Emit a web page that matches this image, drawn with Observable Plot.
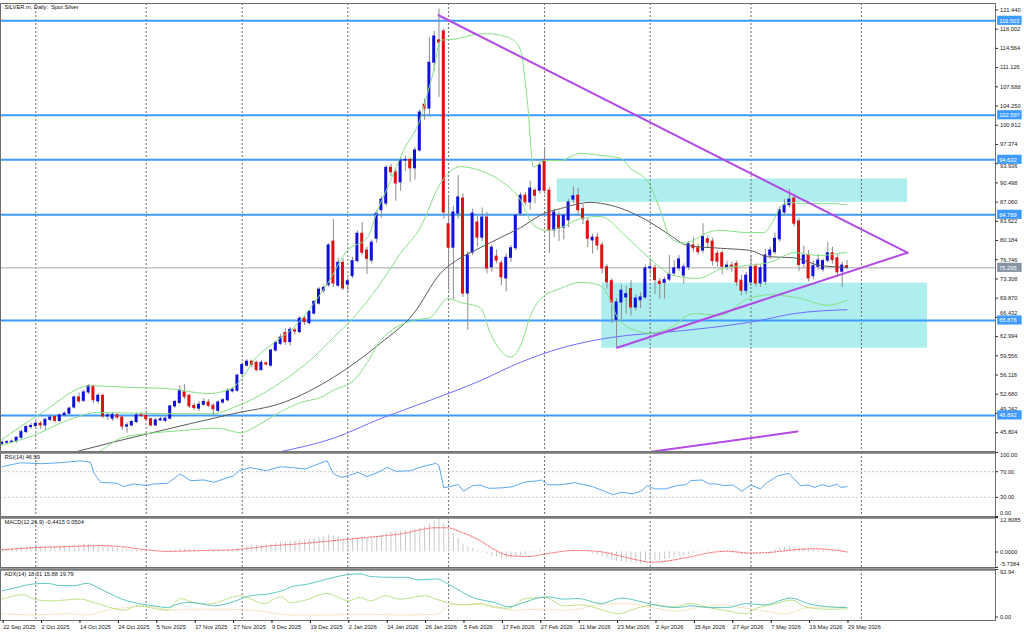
<!DOCTYPE html>
<html><head><meta charset="utf-8">
<script src="https://cdn.jsdelivr.net/npm/d3@7"></script>
<script src="https://cdn.jsdelivr.net/npm/@observablehq/plot@0.6"></script>
<style>
html,body{margin:0;padding:0;background:#fff;}
#chart{position:relative;width:1024px;height:633px;overflow:hidden;background:#fff;}
</style></head><body><div id="chart"></div>
<script>
// ---------- DATA (bar index 0 = 22 Sep 2025, daily bars) ----------
const open = [43.8,44.0,44.1,44.3,44.9,45.9,46.8,47.0,47.4,47.1, 48.1,48.6,47.9,48.9,49.2,50.3,52.1,51.5,53.0,54.1, 51.4,52.4,48.7,48.3,48.9,48.5,46.9,47.1,47.7,48.9, 48.8,48.2,47.1,48.0,47.9,48.3,50.5,51.1,53.0,52.4, 50.6,50.1,50.8,51.2,50.6,49.7,51.2,51.6,53.2,53.3, 56.3,57.8,58.5,58.3,57.0,58.2,57.8,60.5,61.7,63.6, 62.0,64.1,63.8,66.2,65.4,67.1,68.9,71.2,72.2,80.0, 72.1,76.2,72.3,73.8,76.5,81.4,78.4,76.6,80.5,85.6, 86.8,93.2,92.4,90.6,94.5,94.6,93.1,96.3,104.5,103.8, 112.0,116.0,117.6,83.1,78.9,85.0,87.7,70.7,78.0,83.4, 80.7,84.3,75.4,77.3,76.1,73.4,77.1,78.8,85.0,88.2, 87.0,89.1,89.1,94.5,89.1,82.0,84.6,82.5,83.8,87.5, 88.2,85.8,83.6,80.2,80.7,79.3,75.4,72.9,66.0,69.1, 70.0,71.5,68.2,69.5,70.0,75.2,75.2,72.8,72.6,73.2, 74.3,75.2,73.9,75.4,79.3,78.8,78.4,80.4,80.0,77.8, 77.9,75.4,75.7,76.0,73.0,71.2,72.7,75.5,72.5,72.8, 77.5,78.1,80.4,85.2,86.5,87.7,83.6,76.0,77.6,73.8, 75.5,75.0,76.6,77.9,77.0,74.6,75.6];
const high = [44.3,44.4,44.5,45.0,46.3,47.1,47.5,47.9,47.8,48.3, 48.9,48.9,49.1,49.5,50.4,52.3,52.9,53.4,54.4,54.3, 52.8,52.6,49.3,49.4,49.2,48.7,47.6,48.0,49.3,49.4, 49.1,48.4,48.3,48.6,48.8,50.7,51.6,54.2,54.4,52.6, 51.0,51.4,51.9,51.7,51.0,51.5,51.9,53.6,53.9,56.3, 58.3,58.9,58.8,58.6,58.7,58.5,60.8,62.2,63.4,64.4, 64.6,64.5,66.6,66.7,67.7,69.5,71.8,72.2,79.6,83.9, 77.0,77.0,73.5,77.2,81.9,83.4,79.0,80.3,85.5,88.0, 93.6,93.8,93.0,95.0,95.3,95.0,96.8,103.6,105.5,116.5, 117.6,121.6,118.0,88.0,86.3,91.8,88.5,78.2,85.8,84.5, 86.0,85.2,79.4,78.5,76.6,77.8,79.3,85.0,88.7,88.8, 90.8,89.5,94.2,96.8,89.7,85.8,85.2,85.0,87.5,89.8, 89.5,86.6,84.2,81.3,81.5,79.8,75.9,73.4,69.8,72.2, 72.0,73.0,70.5,70.8,75.8,76.5,75.8,73.4,73.6,77.5, 76.6,77.5,76.0,80.0,80.7,79.5,83.2,81.0,80.6,78.4, 78.3,76.5,76.3,76.5,74.0,74.5,77.5,76.0,75.8,78.6, 79.0,81.5,86.2,87.5,89.3,88.4,84.2,79.2,78.4,76.5, 77.7,76.9,79.8,79.0,77.6,76.3,76.6];
const low = [43.5,43.7,43.9,43.9,44.6,45.6,46.4,46.6,46.4,46.2, 47.8,47.6,47.6,48.6,48.9,50.0,51.0,51.2,52.6,51.0, 50.9,48.3,48.0,47.8,48.1,46.2,45.7,46.8,47.4,48.5, 47.9,46.8,46.9,47.8,47.6,48.1,50.2,50.9,51.7,50.1, 49.8,49.6,50.5,50.3,48.8,49.4,50.9,51.3,52.9,53.0, 56.0,57.5,57.4,56.7,56.8,57.7,57.5,60.2,61.4,61.4, 61.3,63.3,63.5,65.0,65.1,66.8,68.6,70.7,71.8,71.8, 71.8,71.2,71.0,73.4,76.2,77.5,74.1,76.0,79.7,84.2, 86.3,91.6,87.2,89.0,92.5,90.6,91.0,96.0,101.7,102.5, 110.5,105.8,84.0,71.2,69.6,84.0,70.0,64.1,77.5,79.0, 80.0,74.2,74.5,76.0,72.1,71.0,76.3,78.3,84.5,86.4, 85.6,86.8,88.5,88.4,77.9,80.7,80.0,80.3,82.5,86.8, 84.5,83.0,78.9,77.8,78.4,74.2,71.5,65.3,61.0,66.0, 67.0,66.7,67.6,68.0,69.6,74.0,70.5,69.7,69.7,72.8, 73.8,74.6,72.4,74.8,78.0,77.5,77.8,78.9,75.6,75.4, 74.0,74.8,74.5,72.0,70.3,70.5,72.0,71.9,71.8,72.2, 76.8,77.6,79.8,84.6,86.0,82.6,74.6,75.3,72.8,73.2, 74.9,74.5,76.2,76.0,73.6,71.8,74.9];
const close = [44.0,44.1,44.2,44.9,45.9,46.8,47.0,47.4,47.1,48.1, 48.5,47.9,48.9,49.2,50.1,52.1,51.4,53.0,54.1,51.6, 52.4,48.7,48.9,49.0,48.5,46.9,47.1,47.7,48.9,48.8, 48.2,47.1,48.0,48.2,48.3,50.5,51.3,53.3,52.2,50.5, 50.2,50.8,51.3,50.6,50.0,51.2,51.6,53.3,53.5,56.0, 57.9,58.5,57.9,57.0,58.3,58.0,60.5,61.9,62.8,62.0, 64.2,63.9,66.2,65.6,67.4,69.2,71.4,71.7,79.3,72.5, 76.2,71.6,72.9,76.5,81.4,78.0,76.9,79.8,85.0,87.5, 93.2,92.4,90.4,94.5,94.6,93.1,96.3,103.1,103.8,112.0, 116.7,115.6,85.2,78.9,85.2,87.9,70.7,77.5,85.0,80.7, 84.3,75.2,78.9,76.6,73.6,77.1,78.8,84.6,88.2,87.0, 89.5,88.2,93.6,89.1,82.0,85.2,82.3,84.6,87.0,88.1, 85.6,84.0,80.5,80.7,79.3,75.2,72.7,69.1,69.1,71.2, 70.6,68.2,69.8,70.0,75.2,75.4,73.1,72.4,73.1,74.1, 75.2,76.8,75.4,79.5,78.8,78.1,80.8,79.8,76.5,76.4, 75.5,75.7,75.5,72.7,71.2,73.9,75.4,72.5,75.2,77.5, 78.4,80.5,85.6,86.5,87.5,83.2,75.8,77.5,73.4,75.6, 76.6,76.5,77.9,76.7,74.5,75.7,75.3];

// Bollinger bands (20) and moving averages, read as [bar, price]
const bbUpper = [[-0.35,44.4],[8.0,49.2],[18.4,54.2],[26.7,53.9],[34.4,53.7],[42.8,52.8],[47.0,53.4],[49.6,55.1],[52.4,58.7],[56.5,61.8],[60.7,64.6],[64.9,68.9],[67.8,72.5],[71.9,78.4],[76.1,80.7],[78.2,85.6],[80.3,89.7],[83.6,96.3],[87.2,102.2],[88.6,106.5],[89.9,110.6],[91.3,116.0],[94.9,116.3],[97.6,116.9],[101.1,117.2],[103.8,116.9],[106.5,116.0],[108.0,114.2],[109.4,105.2],[110.7,93.3],[112.8,94.5],[116.3,94.5],[120.5,95.8],[124.7,95.4],[128.8,94.9],[130.9,93.1],[134.6,90.6],[137.1,85.6],[139.2,80.7],[141.9,79.7],[144.0,80.2],[146.9,81.6],[149.6,82.0],[155.3,81.6],[158.6,81.6],[160.7,83.8],[162.1,86.1],[164.2,87.0],[166.3,86.8],[171.9,86.8],[176,86.6]];
const bbMiddle = [[-0.35,43.5],[6.5,45.3],[13.6,48.0],[19.9,49.4],[34.4,49.2],[44.0,49.2],[48.2,50.3],[52.4,51.9],[56.5,53.9],[60.7,56.4],[64.9,59.3],[69.0,62.8],[73.2,66.4],[78.8,72.5],[83.0,77.9],[87.1,82.5],[91.3,90.4],[95.5,93.4],[99.6,92.7],[103.8,90.9],[108.0,87.4],[110.7,82.9],[113.6,82.0],[116.3,82.5],[120.5,84.1],[124.6,84.5],[130,80.9],[135,76.9],[140,73.9],[145,73.4],[150,75.2],[155,75.7],[160,76.3],[165,78.0],[170,77.5],[176,78.1]];
const bbLower = [[10,40.5],[20.5,42.6],[24.6,44.8],[30.9,45.7],[37.8,46.2],[44.9,46.6],[49.6,45.8],[53.8,47.4],[58.6,49.8],[62.2,51.2],[66.3,52.1],[69.0,53.4],[73.2,55.1],[76.1,58.4],[78.8,62.3],[85.7,65.9],[89.2,66.4],[92.8,69.8],[95.5,69.1],[99.6,68.2],[101.7,63.6],[103.8,60.5],[105.9,59.3],[108.0,61.4],[110.1,66.8],[112.2,69.8],[116.3,71.6],[120.5,72.7],[124.7,72.1],[126.7,69.5],[128.2,66.4],[131.9,64.1],[135.1,63.6],[139.2,64.6],[144.0,67.1],[149.6,66.8],[154.8,69.5],[160.1,70.5],[166.3,69.8],[171.9,68.6],[176,69.5]];
const maSlow = [[48,40.8],[58,42.4],[69,44.8],[78.8,48.3],[89.2,51.6],[99.6,55.1],[108,58.4],[116.3,60.9],[123.2,62.3],[130.3,63.2],[137.2,63.7],[147.6,64.6],[158,65.9],[164.9,67.1],[176,67.8]];
const maMid = [[8,40.6],[16.3,42.6],[30.3,45.6],[48.2,49.2],[58.6,51.2],[69.0,55.7],[78.8,61.8],[85.7,67.1],[91.3,74.3],[95.5,77.1],[99.6,78.9],[103.8,80.7],[108,82.5],[112.8,85.0],[116.3,85.9],[122.6,87.0],[126.7,86.5],[135.1,83.4],[139.2,81.1],[142.8,79.3],[149.6,78.8],[155.9,78.4],[159.4,77.3],[164.9,77.1],[170.5,75.7],[176,75.4]];

// Drawn objects
const triangleUpper = [[90.9,120.5],[188.6,78.0]];
const triangleLower = [[128.1,61.0],[188.6,78.0]];
const trendBottom = [[134.5,42.3],[165.7,46.0]];
const zones = [{from:115.6,to:188.6,low:87.0,high:91.2},{from:124.9,to:192.8,low:60.9,high:72.55}];
const levels = [119.503,102.597,94.632,84.789,65.876,48.892];
const lastPrice = 75.295;

// Indicators
const rsi = [[0,77.8],[3.8,84],[8,82.5],[12.1,84],[16.3,87],[18.4,85],[19.1,68],[20.5,53.4],[23.9,51.8],[25.3,46.7],[27.4,50.9],[30.2,48.2],[31.6,50.9],[34.4,51.8],[37.1,66.4],[39.2,56],[42,57.1],[44.1,53.4],[46.2,58.7],[48.3,63.8],[49.3,71.6],[51.7,76.3],[54.9,71.6],[58,77.8],[60.1,76.7],[63.1,74.2],[67.7,87.2],[69,66.4],[70.7,61.2],[72.2,63.8],[74.1,69],[76,62.3],[78.3,69],[80.2,76.7],[82.1,70.5],[85.1,71.6],[87.4,77.8],[90.4,83],[91,79.4],[92,44.7],[95,49.8],[96.1,39.4],[98,48.2],[99.5,49.3],[101.4,44],[104.1,44.7],[106.4,46.7],[108.6,53.4],[111.7,56],[112.4,57.1],[113.6,49.8],[116.2,49.3],[119.3,52.9],[123,46.7],[127.2,34.2],[129.1,37.8],[131.4,35.3],[133.3,40.5],[134.4,48.2],[135.9,43.1],[138.2,43.1],[140.5,48.2],[142.4,49.8],[143.5,56],[145.8,57.1],[147.3,50.9],[148.8,50.9],[150.4,48.2],[152.2,49.3],[154.1,39.4],[156,49.3],[157.9,43.1],[159.4,53.4],[161.7,63.8],[163.9,67.4],[166.3,48.2],[167.8,49.3],[169.3,45.6],[170.8,49.8],[172.3,46.7],[173.9,50.9],[174.6,45.6],[176,46.59]];
const macdMain = [1.2,1.3,1.4,1.5,1.7,1.9,2.0,2.1,2.1,2.2, 2.2,2.2,2.3,2.3,2.4,2.6,2.6,2.8,3.0,2.7, 2.6,2.1,1.8,1.6,1.4,1.1,0.9,0.8,0.8,0.7, 0.6,0.4,0.3,0.3,0.3,0.5,0.7,1.0,1.1,0.9, 0.7,0.6,0.6,0.5,0.4,0.5,0.6,0.8,1.0,1.4, 1.9,2.3,2.5,2.5,2.6,2.7,3.0,3.4,3.7,3.8, 4.0,4.1,4.4,4.5,4.7,5.0,5.4,5.7,6.2,5.9, 5.8,5.3,5.0,5.0,5.3,5.3,5.1,5.2,5.7,6.2, 7.0,7.4,7.5,7.8,8.0,8.0,8.2,8.9,9.4,10.4, 11.5,12.8,10.6,8.4,7.0,5.2,2.8,1.9,1.2,0.6, -0.3,-0.8,-1.6,-2.0,-2.4,-2.5,-2.3,-1.8,-1.4,-0.9, -0.3,0.2,0.8,1.0,0.4,0.3,0.1,0.1,0.4,0.7, 0.6,0.3,-0.3,-0.7,-1.2,-1.8,-2.4,-3.1,-3.4,-3.6, -3.8,-4.0,-4.2,-4.3,-3.9,-3.4,-3.2,-3.0,-2.7,-2.3, -1.9,-1.5,-1.3,-0.8,-0.5,-0.3,0.1,0.3,0.2,0.0, -0.2,-0.3,-0.4,-0.6,-0.9,-0.9,-0.6,-0.6,-0.4,0.0, 0.3,0.9,1.4,1.7,2.1,1.9,1.4,1.2,0.8,0.6, 0.5,0.4,0.4,0.3,0.0,-0.3,-0.4415];
const macdSignal = [[0,0.8],[6.5,1.6],[13.6,2.0],[20.5,2.4],[24.6,2.0],[30.3,0.8],[34.4,0.2],[38.6,0.4],[42.8,0.6],[48.2,0.8],[52.4,1.6],[56.5,2.4],[60.1,2.8],[67.7,4.0],[75.3,5.3],[82.9,6.7],[90.4,9.0],[92.7,9.0],[95.7,7.3],[99.5,4.3],[102.6,0.8],[105.6,-1.3],[109.4,-1.7],[113.2,-0.7],[119.3,0.6],[123.8,0.3],[128.4,-1.3],[132.2,-2.9],[135.2,-3.8],[139,-3.2],[143.5,-1.7],[148.1,-0.1],[151.1,0.3],[155.6,-0.4],[160.2,-0.1],[164.8,0.8],[169.3,1.2],[173.9,0.6],[176,0.0504]];
const adx = [[0,51.4],[3.1,57.9],[6.6,64.7],[9.4,65.8],[12.1,61.3],[14.9,61.3],[17.7,65.8],[19.8,57.9],[22.6,44.9],[24.6,36.2],[27.4,28.3],[30.2,23.7],[33,19.8],[34.4,18.4],[36.5,25.1],[38.5,28.3],[41.3,26.3],[44.1,21.8],[48.3,30.3],[51.7,41.5],[55.2,44.9],[58.7,52.8],[60.1,58.5],[63.9,64.7],[67.7,74.5],[72.2,83],[74.5,84.4],[76.8,79.1],[81.3,77.7],[84.4,77.7],[86.6,72.6],[90.4,74.5],[93.5,61.3],[98,38.2],[102.6,28.3],[105.6,19.8],[108.6,28.3],[113.2,39.5],[117,35],[120,36.2],[124.6,26.3],[129.1,37],[132.9,30.3],[135.2,25.1],[140.5,18.4],[143.5,21.8],[147.3,18.4],[151.1,18.4],[154.9,26.3],[158.7,23.7],[164.4,37],[167.8,26.3],[172.4,19.8],[176,18.31]];
const plusDI = [[0,35],[4.5,43.5],[6.6,35],[10.1,31.6],[16.3,35],[19.1,28.3],[22.6,18.4],[25.3,13.2],[28.1,21.8],[34.4,13.2],[37.1,36.2],[39.2,30.3],[42.7,25.1],[49.7,41.5],[54.5,26.3],[58,39.5],[60.1,28.3],[63.1,33],[67.7,46.1],[70,38.2],[72.2,31.6],[74.5,38.2],[76.8,31.6],[79.8,41.5],[82.9,35],[88.1,41.5],[90.4,35],[92.7,28.3],[96.5,23.7],[99.5,26.3],[102.6,19.8],[105.6,17.2],[108.6,35],[113.2,38.2],[117,21.8],[120.8,23.7],[125.3,13.2],[128.4,6.5],[132.2,17.2],[135.9,23.7],[139.7,19.8],[143.5,26.3],[147.3,18.4],[151.1,11.9],[154.9,6.5],[157.2,17.2],[160.9,25.1],[164.4,33],[167.8,18.4],[172.4,15.2],[176,15.88]];
const minusDI = [[0,6.5],[6.6,4],[13.5,6.5],[17.7,4],[22.6,15.2],[26,18.4],[29.5,21.8],[35.8,13.2],[39.9,15.2],[44.1,15.2],[52.4,13.2],[57.3,6.5],[60.1,4],[67.7,4],[75.3,5.3],[82.9,4],[90.4,5.3],[93.5,23.7],[98,25.1],[102.6,18.4],[107.2,13.2],[111.7,15.2],[117.8,13.2],[125.3,25.1],[129.9,26.3],[135.2,18.4],[140.5,11.9],[145,18.4],[149.6,23.7],[154.1,18.4],[158.7,11.9],[163.2,6.5],[167.8,18.4],[172.4,19.8],[176,19.79]];

// Axes
const priceTicks = [121.440,118.002,114.564,111.126,107.688,104.250,100.812,97.374,90.498,87.060,83.622,80.184,76.746,73.308,69.870,62.994,59.556,56.118,52.680,45.804];
const priceTicksAbove = [66.432,49.242];   // partly covered by the level labels just below them
const priceTicksBelow = [93.936];          // partly covered by the level label just above it
const monthStarts = [7,30,50,72,93,113,135,156,179];
const labelBars = [0,8,16,24,32,40,48,56,64,72,80,88,96,104,112,120,128,136,144,152,160,168,176];
const dateLabels = ["22 Sep 2025","2 Oct 2025","14 Oct 2025","24 Oct 2025","5 Nov 2025","17 Nov 2025","27 Nov 2025","9 Dec 2025","19 Dec 2025","2 Jan 2026","14 Jan 2026","26 Jan 2026","5 Feb 2026","17 Feb 2026","27 Feb 2026","11 Mar 2026","23 Mar 2026","2 Apr 2026","15 Apr 2026","27 Apr 2026","7 May 2026","19 May 2026","29 May 2026"];
const titles = {main:"SILVER.m, Daily:  Spot Silver", rsi:"RSI(14) 46.59", macd:"MACD(12,26,9) -0.4415 0.0504", adx:"ADX(14) 18.31 15.88 19.79"};

// ---------- CHART ----------
const candles = close.map((c, i) => ({i, open: open[i], high: high[i], low: low[i], close: c}));
const xDomain = [-0.354, 206.94];
const W = 1024, MR = 29;
const baseStyle = {fontFamily: "'Liberation Sans', Arial, sans-serif", fontSize: "5.7px", color: "#1a1a1a", background: "transparent", overflow: "visible"};
const gridColor = "#5c5c5c";
const frameColor = "#6e6e6e";
const lblX1 = xDomain[1] + 0.45, lblX2 = xDomain[1] + 5.55;
const place = (el, top) => { el.style.position = "absolute"; el.style.left = "0px"; el.style.top = top + "px"; document.getElementById("chart").append(el); };
const grid = () => Plot.ruleX(monthStarts, {stroke: gridColor, strokeDasharray: "2,2", strokeWidth: 0.9});
const title = (t, dy) => Plot.text([t], {frameAnchor: "top-left", dx: 4, dy, fill: "#111"});
const tickLabels = (values, fmt, dy) => [
  Plot.ruleY(values, {x1: () => xDomain[1], x2: () => xDomain[1] + 0.63, stroke: "#333"}),
  Plot.text(values, {x: () => xDomain[1], y: d => d, dx: 4.5, dy, text: d => fmt(d), textAnchor: "start", fill: "#1a1a1a"})
];

const main = Plot.plot({
  width: W, height: 452, marginTop: 3, marginBottom: 1, marginLeft: 0, marginRight: MR,
  x: {domain: xDomain, axis: null}, y: {domain: [42.43, 122.60], axis: null},
  style: baseStyle,
  marks: [
    Plot.rect(zones, {x1: "from", x2: "to", y1: "low", y2: "high", fill: "#aeeeee"}),
    grid(),
    Plot.ruleY([lastPrice], {stroke: "#c4c4c4", strokeWidth: 1.5}),
    Plot.ruleY(levels, {stroke: "#3d9bff", strokeWidth: 2}),
    Plot.ruleX(candles, {x: "i", y1: "low", y2: "high", stroke: "#8c8c8c"}),
    Plot.rect(candles, {x1: d => d.i - 0.31, x2: d => d.i + 0.31, y1: "open", y2: "close", insetTop: -0.5, insetBottom: -0.5,
      fill: d => d.close >= d.open ? "#1010d8" : "#e01010"}),
    Plot.line(maSlow, {stroke: "#6f6cff", strokeWidth: 1, curve: "monotone-x", clip: true}),
    Plot.line(maMid, {stroke: "#5a5a5a", strokeWidth: 1, curve: "monotone-x", clip: true}),
    Plot.line(bbLower, {stroke: "#86e086", strokeWidth: 1, curve: "monotone-x", clip: true}),
    Plot.line(bbMiddle, {stroke: "#86e086", strokeWidth: 1, curve: "monotone-x", clip: true}),
    Plot.line(bbUpper, {stroke: "#86e086", strokeWidth: 1, curve: "monotone-x", clip: true}),
    Plot.line(triangleUpper, {stroke: "#b24ae6", strokeWidth: 2, clip: true}),
    Plot.line(triangleLower, {stroke: "#b24ae6", strokeWidth: 2, clip: true}),
    Plot.line(trendBottom, {stroke: "#b24ae6", strokeWidth: 2, clip: true}),
    Plot.frame({stroke: frameColor}),
    ...tickLabels(priceTicks, d => d.toFixed(3), 0),
    ...tickLabels(priceTicksAbove, d => d.toFixed(3), -4),
    ...tickLabels(priceTicksBelow, d => d.toFixed(3), 2.6),
    Plot.rect(levels, {x1: () => lblX1, x2: () => lblX2, y1: d => d - 0.82, y2: d => d + 0.82, fill: "#3d9bff"}),
    Plot.text(levels, {x: () => lblX1, y: d => d, dx: 1.5, text: d => d.toFixed(3), fill: "#ffffff", textAnchor: "start"}),
    Plot.rect([lastPrice], {x1: () => lblX1, x2: () => lblX2, y1: d => d - 0.82, y2: d => d + 0.82, fill: "#8795a3"}),
    Plot.text([lastPrice], {x: () => lblX1, y: d => d, dx: 1.5, text: d => d.toFixed(3), fill: "#ffffff", textAnchor: "start"}),
    title(titles.main, 1)
  ]
});
place(main, 0);

const rsiPlot = Plot.plot({
  width: W, height: 66, marginTop: 1, marginBottom: 1, marginLeft: 0, marginRight: MR,
  x: {domain: xDomain, axis: null}, y: {domain: [0, 100], axis: null},
  style: baseStyle,
  marks: [
    grid(),
    Plot.ruleY([70, 30], {stroke: "#c8c8c8", strokeDasharray: "2,2"}),
    Plot.line(rsi, {stroke: "#5aa9f2", strokeWidth: 1}),
    Plot.frame({stroke: frameColor}),
    Plot.ruleY([100], {stroke: "#7a7a7a", strokeWidth: 2.5}),
    ...tickLabels([70, 30], d => d.toFixed(2), 0),
    ...tickLabels([100], d => d.toFixed(2), 3),
    ...tickLabels([0], d => d.toFixed(2), -3.5),
    title(titles.rsi, 2)
  ]
});
place(rsiPlot, 451);

const macdPlot = Plot.plot({
  width: W, height: 52, marginTop: 1, marginBottom: 1, marginLeft: 0, marginRight: MR,
  x: {domain: xDomain, axis: null}, y: {domain: [-5.7384, 12.8085], axis: null},
  style: baseStyle,
  marks: [
    grid(),
    Plot.ruleX(macdMain, {x: (d, i) => i, y1: 0, y2: d => d, stroke: "#c9c9c9", strokeWidth: 1}),
    Plot.line(macdSignal, {stroke: "#ff5a5a", strokeWidth: 1, strokeDasharray: "1.5,1.5", curve: "monotone-x"}),
    Plot.frame({stroke: frameColor}),
    Plot.ruleY([12.8085], {stroke: "#7a7a7a", strokeWidth: 2.5}),
    ...tickLabels([0], d => d.toFixed(4), 0),
    ...tickLabels([12.8085], d => d.toFixed(4), 3),
    ...tickLabels([-5.7384], d => d.toFixed(4), -3.5),
    title(titles.macd, 2)
  ]
});
place(macdPlot, 516);

const adxPlot = Plot.plot({
  width: W, height: 65, marginTop: 1, marginBottom: 13, marginLeft: 0, marginRight: MR,
  x: {domain: xDomain, axis: null}, y: {domain: [-6.85, 92.94], axis: null},
  style: baseStyle,
  marks: [
    grid(),
    Plot.line(minusDI, {stroke: "#f0dca8", strokeWidth: 1, strokeDasharray: "1.5,1.5", curve: "monotone-x"}),
    Plot.line(plusDI, {stroke: "#a8d860", strokeWidth: 1, strokeDasharray: "1.5,1.5", curve: "monotone-x"}),
    Plot.line(adx, {stroke: "#5cc8c0", strokeWidth: 1, curve: "monotone-x"}),
    Plot.frame({stroke: frameColor}),
    Plot.ruleY([92.94], {stroke: "#7a7a7a", strokeWidth: 2.5}),
    ...tickLabels([92.94], d => d.toFixed(2), 3),
    ...tickLabels([0], d => d.toFixed(2), 0),
    Plot.axisX({anchor: "bottom", ticks: labelBars, tickFormat: d => dateLabels[labelBars.indexOf(d)], tickSize: 3, tickPadding: 1.5, textAnchor: "start", dx: 1}),
    title(titles.adx, 2)
  ]
});
place(adxPlot, 568);
</script></body></html>
